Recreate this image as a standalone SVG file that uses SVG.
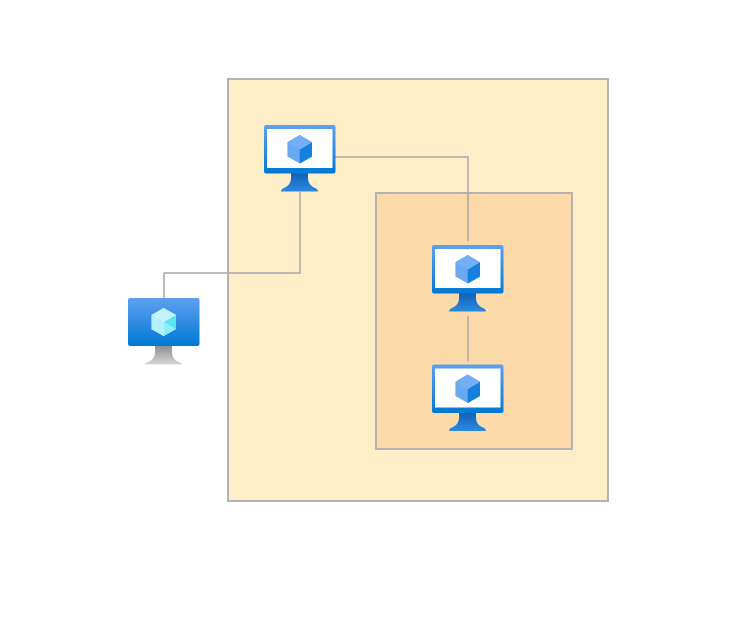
<svg xmlns="http://www.w3.org/2000/svg" xmlns:xlink="http://www.w3.org/1999/xlink" width="735" height="635" viewBox="0 0 735 635">
<style>
.zone{stroke:#b3b3b3;stroke-width:2}
.conn{fill:none;stroke:#a8a8a8;stroke-width:1.5}
</style>
<defs>
<linearGradient id="frame" x1="0" y1="0" x2="0" y2="1"><stop offset="0" stop-color="#5ea0ef"/><stop offset="1" stop-color="#0078d4"/></linearGradient>
<linearGradient id="stand" x1="0" y1="0" x2="0" y2="1"><stop offset="0" stop-color="#0f5fb4"/><stop offset="1" stop-color="#2c8ae0"/></linearGradient>
<linearGradient id="standGrey" x1="0" y1="0" x2="0" y2="1"><stop offset="0" stop-color="#8f8f8f"/><stop offset="1" stop-color="#d6d6d6"/></linearGradient>
<g id="vm">
<path d="M27 47H44V53C44 59 48 62 52 63.500C53.500 64.200 54 65.500 54 66.500H17C17 65.500 17.500 64.200 19 63.500C23 62 27 59 27 53Z" fill="url(#stand)"/>
<rect x="0" y="0" width="71.500" height="48.500" rx="2" fill="url(#frame)"/>
<rect x="3" y="4" width="65.500" height="39" fill="#fff"/>
<path d="M35.700 10L48 17.200V31.500L35.700 38.500L23.400 31.500V17.200Z" fill="#6aa8f2"/>
<path d="M35.700 24.500L48 17.200V31.500L35.700 38.500Z" fill="#1480dc"/>
<path d="M35.700 24.500L23.400 17.200L35.700 10L48 17.200Z" fill="#74aff4"/>
</g>
</defs>
<rect width="735" height="635" fill="#fff"/>
<g id="zones">
<rect id="outer-zone" class="zone" x="228" y="79" width="380" height="422" fill="#fdeec8"/>
<rect id="inner-zone" class="zone" x="376" y="193" width="196" height="256" fill="#fddaa9"/>
</g>
<g id="connectors">
<path class="conn" d="M164 298V273H300V192"/>
<path class="conn" d="M335 157H468V241"/>
<path class="conn" d="M468 316V361"/>
</g>
<g id="vm-top"><use xlink:href="#vm" href="#vm" x="264" y="125"/></g>
<g id="vm-middle"><use xlink:href="#vm" href="#vm" x="432" y="245"/></g>
<g id="vm-bottom"><use xlink:href="#vm" href="#vm" x="432" y="364.500"/></g>
<g id="vm-external">
<path d="M155 346H172V352C172 358 176 361 179 362C181 362.800 182 363.500 182 364.500H145C145 363.500 146 362.800 148 362C151 361 155 358 155 352Z" fill="url(#standGrey)"/>
<rect x="128" y="298" width="71.500" height="48" rx="2" fill="url(#frame)"/>
<path d="M163.700 308L176 315V329L163.700 336L151.400 329V315Z" fill="#b4f0ff"/>
<path d="M163.700 322L176 315V329L163.700 336Z" fill="#5ce5f5"/>
<path d="M163.700 322L151.400 315L163.700 308L176 315Z" fill="#c3f3ff"/>
<path d="M163.700 322V336L151.400 329Z" fill="#a6ecff"/>
<path d="M163.700 322L176 329L163.700 336L151.400 329Z" fill="#c3f3ff" opacity="0.5"/>
</g>
</svg>
